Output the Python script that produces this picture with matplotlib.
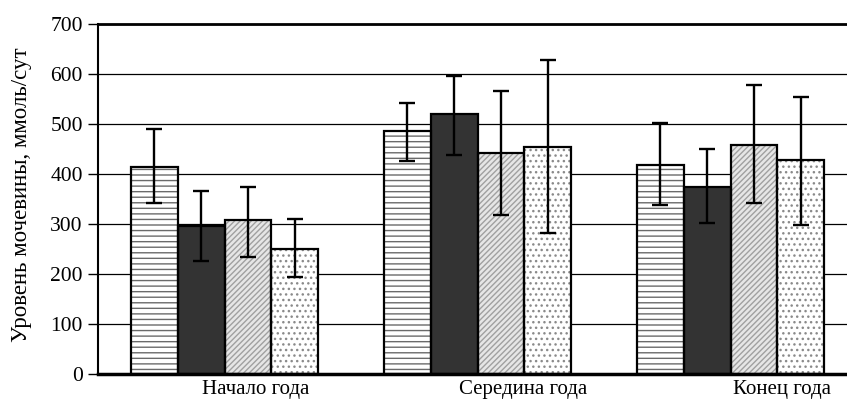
import numpy as np
import matplotlib
matplotlib.use('Agg')
from matplotlib import pyplot as plt
from matplotlib.transforms import ScaledTranslation

plt.rcParams['font.family'] = ['Liberation Serif', 'DejaVu Serif']
plt.rcParams['hatch.linewidth'] = 1.0

# Данные
periods = ['Начало года', 'Середина года', 'Конец года']
series_1 = [414, 487, 419]
series_1_low = [343, 427, 339]
series_1_high = [491, 543, 503]
series_2 = [297, 520, 375]
series_2_low = [227, 439, 303]
series_2_high = [367, 596, 451]
series_3 = [308, 442, 459]
series_3_low = [235, 319, 343]
series_3_high = [375, 567, 579]
series_4 = [251, 455, 428]
series_4_low = [195, 283, 299]
series_4_high = [311, 628, 555]
y_ticks = [0, 100, 200, 300, 400, 500, 600, 700]

series = [
    (series_1, series_1_low, series_1_high),
    (series_2, series_2_low, series_2_high),
    (series_3, series_3_low, series_3_high),
    (series_4, series_4_low, series_4_high),
]
# оформление столбцов: заливка, цвет штриховки, штриховка
styles = [
    ('white', '#6a6a6a', '---'),
    ('#333333', '#333333', None),
    ('#e6e6e6', '#a0a0a0', '//////'),
    ('white', '#8a8a8a', '...'),
]

fig = plt.figure(figsize=(8.47, 4.01), dpi=100)
ax = fig.add_axes([98 / 847, 27 / 401, 1 - 98 / 847, 350 / 401])

x = np.arange(len(periods))
w = 0.185
for i, ((vals, low, high), (fc, hc, hatch)) in enumerate(zip(series, styles)):
    pos = x + (i - 1.5) * w
    ax.bar(pos, vals, w, color=fc, edgecolor=hc, hatch=hatch, linewidth=0, zorder=2)
    ax.bar(pos, vals, w, fill=False, edgecolor='black', linewidth=1.6, zorder=3)
    vals = np.array(vals)
    yerr = [vals - np.array(low), np.array(high) - vals]
    ax.errorbar(pos, vals, yerr=yerr, fmt='none', ecolor='black',
                elinewidth=1.7, capsize=5.5, capthick=1.7, zorder=4)

ax.set_xlim(-0.5, 2.46)
ax.set_ylim(0, 700)
ax.set_yticks(y_ticks)
ax.yaxis.grid(True, color='black', linewidth=0.9, zorder=0)
ax.set_axisbelow(True)
ax.tick_params(axis='y', direction='out', length=7, width=1, pad=4, labelsize=15.5)
ax.set_xticks(x)
ax.set_xticklabels(periods, fontsize=15)
ax.tick_params(axis='x', length=0, pad=4)
shifts = [31, 46, 51]
for lab, s in zip(ax.get_xticklabels(), shifts):
    lab.set_transform(lab.get_transform() + ScaledTranslation(s / 100, 0, fig.dpi_scale_trans))

ax.spines['right'].set_visible(False)
ax.spines['top'].set_linewidth(2)
ax.spines['bottom'].set_linewidth(2.5)
ax.spines['left'].set_linewidth(1.5)
ax.set_ylabel('Уровень мочевины, ммоль/сут', fontsize=16.5)
ax.yaxis.set_label_coords(-0.088, 0.511)

plt.savefig('out.png', dpi=100)
